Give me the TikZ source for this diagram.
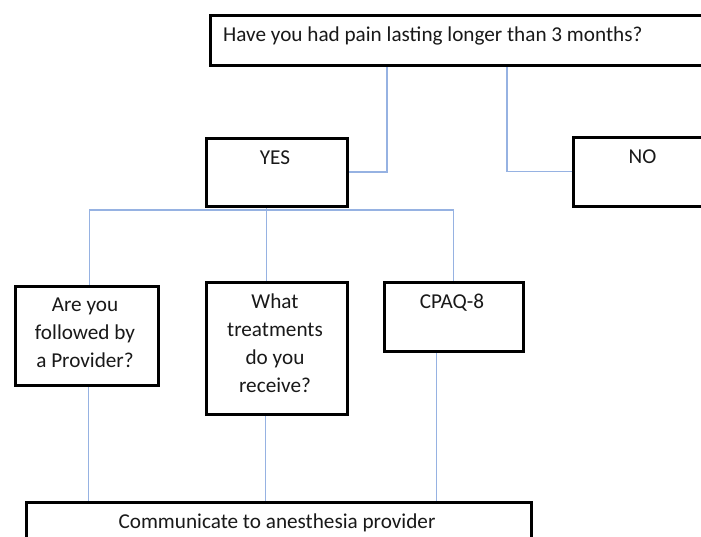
\documentclass[tikz,border=0pt]{standalone}
\usepackage{fontspec}
\setmainfont{Carlito}
\usetikzlibrary{backgrounds}
\definecolor{linkblue}{RGB}{150,178,226}
\begin{document}
\begin{tikzpicture}[x=1pt,y=-1pt,
  box/.style={draw=black,line width=3pt,fill=white,inner sep=0pt,
    anchor=north west,rectangle},
  txt/.style={font=\fontsize{21.2}{28}\selectfont,inner sep=0pt,
    align=center,anchor=north,text=black!90},
  conn/.style={draw=linkblue,line width=1.3pt}]
\useasboundingbox (0,0) rectangle (701,536);
\clip (0,0) rectangle (701,536);

% boxes
\node[box,minimum width=521.5pt,minimum height=50pt] (pain) at (208.5,13.5) {};
\node[box,minimum width=141pt,minimum height=68pt] (yes) at (204.5,136.5) {};
\node[box,minimum width=143.5pt,minimum height=69pt] (no) at (571.5,135.5) {};
\node[box,minimum width=143pt,minimum height=99pt] (prov) at (13.5,284.5) {};
\node[box,minimum width=141pt,minimum height=132pt] (treat) at (204.5,280.5) {};
\node[box,minimum width=139pt,minimum height=69pt] (cpaq) at (382.5,280.5) {};
\node[box,minimum width=505pt,minimum height=70pt] (comm) at (24.5,500.5) {};

% texts
\node[txt,align=left,anchor=north west] (paintext) at (223,21.4)
  {\strut Have you had pain lasting longer than 3 months?};
\node[txt] (yestext) at (275,144.4) {\strut YES};
\node[txt] (notext) at (642.5,143.4) {\strut NO};
\node[txt] (provtext) at (85,291.9) {\strut Are you\\followed by\\a Provider?};
\node[txt] (treattext) at (275,288.4) {\strut What\\treatments\\do you\\receive?};
\node[txt] (cpaqtext) at (452,288.4) {\strut CPAQ-8};
\node[txt] (commtext) at (277,508.4) {\strut Communicate to anesthesia provider};

% connectors
\begin{scope}[on background layer]
  \draw[conn] ([xshift=178.5pt]pain.south west) |- (yes.east);
  \draw[conn] ([xshift=298.5pt]pain.south west) |- (no.west);
  \draw[conn] ([xshift=-10pt]yes.south) -- ([xshift=-10pt,yshift=-2.5pt]yes.south);
  \draw[conn] ([yshift=-2.5pt]yes.south) -| ([xshift=3pt]prov.north);
  \draw[conn] ([xshift=-10pt,yshift=-2.5pt]yes.south) -- ([xshift=-10pt]treat.north);
  \draw[conn] ([yshift=-2.5pt]yes.south) -| (cpaq.north);
  \draw[conn] ([xshift=2pt]prov.south) -- ([xshift=2pt]prov.south |- comm.north);
  \draw[conn] ([xshift=-11pt]treat.south) -- ([xshift=-11pt]treat.south |- comm.north);
  \draw[conn] ([xshift=-17pt]cpaq.south) -- ([xshift=-17pt]cpaq.south |- comm.north);
\end{scope}
\end{tikzpicture}
\end{document}
